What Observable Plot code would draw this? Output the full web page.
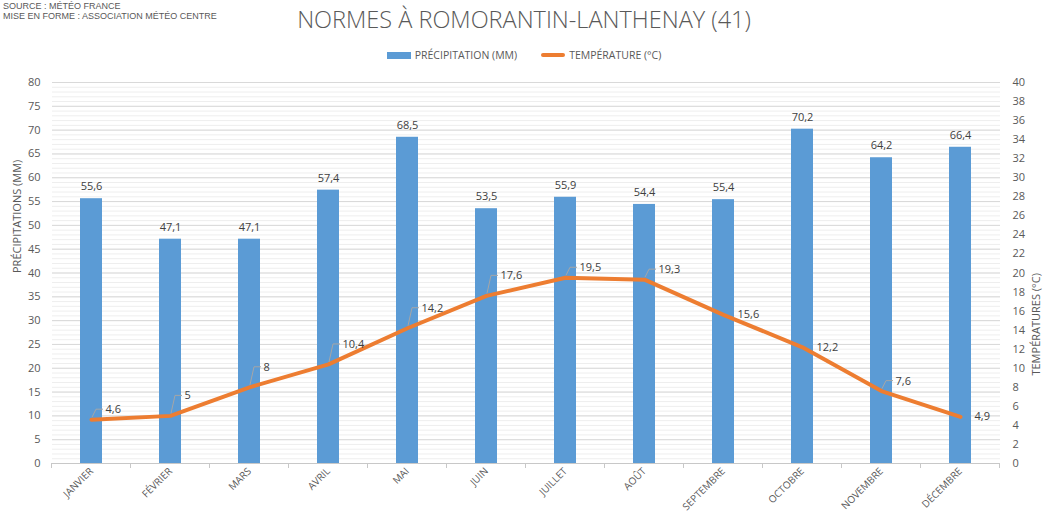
<!DOCTYPE html>
<html><head><meta charset="utf-8">
<script src="https://cdn.jsdelivr.net/npm/d3@7"></script>
<script src="https://cdn.jsdelivr.net/npm/@observablehq/plot@0.6"></script>
<style>
body{margin:0;background:#fff;font-family:"Open Sans",sans-serif;}
#wrap{position:relative;width:1048px;height:524px;overflow:hidden;}
#src{position:absolute;left:3px;top:1px;font-size:9px;color:#595959;line-height:10px;font-family:"Liberation Sans",sans-serif;}
#title{position:absolute;left:0;width:1048px;top:3px;text-align:center;font-size:23.5px;color:#595959;font-weight:300;}
#legend{position:absolute;top:48px;left:0;width:1048px;display:flex;justify-content:center;align-items:center;font-size:10.5px;color:#595959;}
.item{display:flex;align-items:center;margin:0 12px;}
.sw{display:inline-block;width:24px;margin-right:4px;}
#chart{position:absolute;top:70px;left:0;}
</style></head>
<body><div id="wrap">
<div id="src">SOURCE : MÉTÉO FRANCE<br>MISE EN FORME : ASSOCIATION MÉTÉO CENTRE</div>
<div id="title">NORMES À ROMORANTIN-LANTHENAY (41)</div>
<div id="legend">
  <div class="item"><span class="sw" style="height:7px;background:#5b9bd5"></span>PRÉCIPITATION (MM)</div>
  <div class="item"><span class="sw" style="height:4px;border-radius:2px;background:#ed7d31"></span>TEMPÉRATURE (°C)</div>
</div>
<div id="chart"></div>
</div>
<script>
const months = ["JANVIER","FÉVRIER","MARS","AVRIL","MAI","JUIN","JUILLET","AOÛT","SEPTEMBRE","OCTOBRE","NOVEMBRE","DÉCEMBRE"];
const precipitation = [55.6,47.1,47.1,57.4,68.5,53.5,55.9,54.4,55.4,70.2,64.2,66.4];
const temperature = [4.6,5,8,10.4,14.2,17.6,19.5,19.3,15.6,12.2,7.6,4.9];
const precipTicks = d3.range(0, 81, 5);
const precipMinor = d3.range(0, 81, 1);
const tempTicks = d3.range(0, 41, 2);

const ratio = d3.max(precipTicks) / d3.max(tempTicks);
const fmt = v => String(v).replace(".", ",");

// label placement groups (annotation layout)
const besideLabels = new Set(["SEPTEMBRE","OCTOBRE","DÉCEMBRE"]);
const smallLift = new Set(["JANVIER","JUILLET","AOÛT","NOVEMBRE"]);
const liftOf = m => besideLabels.has(m) ? 0 : smallLift.has(m) ? -10 : -20;

const data = months.map((m, i) => ({m, p: precipitation[i], t: temperature[i], ty: temperature[i] * ratio}));

const W = 1048, H = 454, mt = 12, mb = 61, ml = 52, mr = 48;
const gray = "#595959";

const chart = Plot.plot({
  width: W, height: H,
  marginTop: mt, marginBottom: mb, marginLeft: ml, marginRight: mr,
  style: {fontFamily: "Open Sans, sans-serif", fontSize: "11px", color: gray, background: "#fff"},
  x: {domain: months, paddingInner: 0.72, paddingOuter: 0.36, axis: null},
  y: {domain: [0, d3.max(precipTicks)], axis: null},
  marks: [
    Plot.ruleY(precipMinor, {stroke: "#eeeeee", strokeWidth: 1}),
    Plot.ruleY(precipTicks, {stroke: "#d9d9d9", strokeWidth: 1}),
    Plot.barY(data, {x: "m", y: "p", fill: "#5b9bd5"}),
    Plot.line(data, {x: "m", y: "ty", stroke: "#ed7d31", strokeWidth: 4, strokeLinecap: "round", strokeLinejoin: "round"}),
    Plot.text(data, {x: "m", y: "p", text: d => fmt(d.p), dy: -12, fill: "#404040", fontSize: 11}),
    Plot.text(data.filter(d => liftOf(d.m) === 0), {x: "m", y: "ty", text: d => fmt(d.t), dx: 14, dy: 0, textAnchor: "start", fill: "#404040", fontSize: 11}),
    Plot.text(data.filter(d => liftOf(d.m) === -10), {x: "m", y: "ty", text: d => fmt(d.t), dx: 14, dy: -10, textAnchor: "start", fill: "#404040", fontSize: 11}),
    Plot.text(data.filter(d => liftOf(d.m) === -20), {x: "m", y: "ty", text: d => fmt(d.t), dx: 14, dy: -20, textAnchor: "start", fill: "#404040", fontSize: 11}),
    Plot.axisY({anchor: "left", ticks: precipTicks, tickSize: 0, tickPadding: 12, label: null, fill: gray, fontSize: 11}),
    Plot.axisY({anchor: "right", ticks: tempTicks.map(t => t * ratio), tickFormat: d => fmt(d / ratio), tickSize: 0, tickPadding: 12, label: null, fill: gray, fontSize: 11}),
    Plot.axisX({tickSize: 0, tickRotate: -45, tickPadding: 6, label: null, fill: gray, fontSize: 10}),
    Plot.ruleY([0], {stroke: "#c8c8c8"}),
    Plot.text(["PRÉCIPITATIONS (MM)"], {frameAnchor: "left", dx: -35, rotate: -90, fill: gray, fontSize: 11}),
    Plot.text(["TEMPÉRATURES (°C)"], {frameAnchor: "right", dx: 36, rotate: -90, fill: gray, fontSize: 11})
  ]
});
document.getElementById("chart").appendChild(chart);

// category boundary ticks and leader lines via the plot's own scales
const xs = chart.scale("x"), ys = chart.scale("y");
const svg = d3.select(chart);
const step = xs.step, bw = xs.bandwidth;
const y0 = ys.apply(0);
const bounds = months.map(m => xs.apply(m) - (step - bw) / 2).concat([xs.apply(months[months.length - 1]) + bw + (step - bw) / 2]);
svg.append("g").selectAll("line").data(bounds).join("line")
  .attr("x1", d => d).attr("x2", d => d).attr("y1", y0).attr("y2", y0 + 5)
  .attr("stroke", "#c8c8c8");
svg.append("g").selectAll("path").data(data.filter(d => liftOf(d.m) !== 0)).join("path")
  .attr("d", d => {
    const cx = xs.apply(d.m) + bw / 2, cy = ys.apply(d.ty), l = liftOf(d.m);
    return `M${cx + 1},${cy - 2}L${cx + 5},${cy + l}L${cx + 12},${cy + l}`;
  })
  .attr("fill", "none").attr("stroke", "#a6a6a6").attr("stroke-width", 1);
</script>
</body></html>
